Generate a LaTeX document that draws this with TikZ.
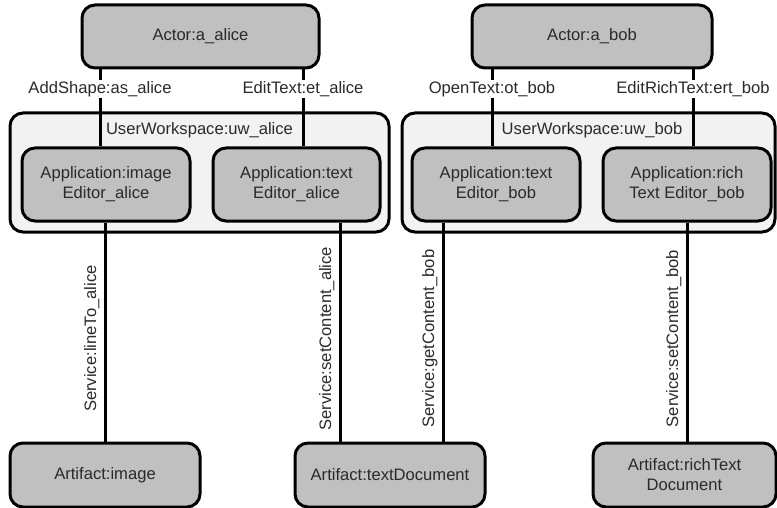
\documentclass[tikz,border=0pt]{standalone}
\usepackage{fontspec}
\setmainfont{Liberation Sans}
\definecolor{boxgray}{HTML}{C0C0C0}
\definecolor{wsgray}{HTML}{F2F2F2}
\definecolor{txt}{HTML}{2A2A2A}
\begin{document}
\begin{tikzpicture}[x=1pt,y=-1pt,
  every node/.style={font=\fontsize{16.6}{20}\selectfont, text=txt},
  elem/.style={draw=black, line width=3pt, fill=boxgray, rounded corners=13pt, align=center, inner sep=0pt},
  ws/.style={draw=black, line width=3pt, fill=wsgray, rounded corners=13pt, inner sep=0pt},
  conn/.style={draw=black, line width=3pt},
  toplab/.style={fill=white, inner sep=1.5pt},
  svclab/.style={rotate=90, anchor=south, inner sep=4pt}]
\useasboundingbox (0,0) rectangle (777,508);
% actors
\node[elem, minimum width=237pt, minimum height=63pt] (aalice) at (200.5,36.5) {Actor:a\_alice};
\node[elem, minimum width=240pt, minimum height=63pt] (abob) at (592,36.5) {Actor:a\_bob};
% workspaces
\node[ws, minimum width=379pt, minimum height=119pt] (uwalice) at (199.5,172.5) {};
\node[ws, minimum width=373pt, minimum height=119pt] (uwbob) at (588.5,172.5) {};
\node[anchor=north, inner sep=0pt] (uwalicelab) at ([yshift=-11pt]uwalice.north) {UserWorkspace:uw\_alice};
\node[anchor=north, inner sep=0pt] (uwboblab) at ([xshift=3.5pt,yshift=-11pt]uwbob.north) {UserWorkspace:uw\_bob};
% applications
\node[elem, minimum width=168pt, minimum height=73pt] (appimg) at (106,184.5) {Application:image\\Editor\_alice};
\node[elem, minimum width=167pt, minimum height=73pt] (apptxta) at (296.5,184.5) {Application:text\\Editor\_alice};
\node[elem, minimum width=168pt, minimum height=73pt] (apptxtb) at (496,184.5) {Application:text\\Editor\_bob};
\node[elem, minimum width=168pt, minimum height=73pt] (apprich) at (687,184.5) {Application:rich\\Text Editor\_bob};
% artifacts
\node[elem, minimum width=190pt, minimum height=64pt] (artimg) at (105,475) {Artifact:image};
\node[elem, minimum width=190pt, minimum height=64pt] (arttxt) at (390,475) {Artifact:textDocument};
\node[elem, minimum width=183pt, minimum height=64pt] (artrich) at (684.5,475) {Artifact:richText\\Document};
% actor -> application connectors
\draw[conn] ([xshift=-100.5pt]aalice.south) -- ([xshift=-6pt]appimg.north)
  node[toplab, pos=0.25] (lab1) {AddShape:as\_alice};
\draw[conn] ([xshift=102.5pt]aalice.south) -- ([xshift=6.5pt]apptxta.north)
  node[toplab, pos=0.25] (lab2) {EditText:et\_alice};
\draw[conn] ([xshift=-100pt]abob.south) -- ([xshift=-4pt]apptxtb.north)
  node[toplab, pos=0.25] (lab3) {OpenText:ot\_bob};
\draw[conn] ([xshift=101pt]abob.south) -- ([xshift=6pt]apprich.north)
  node[toplab, pos=0.25] (lab4) {EditRichText:ert\_bob};
% application -> artifact connectors
\draw[conn] ([xshift=-1pt]appimg.south) -- (artimg.north)
  node[svclab, pos=0.53] (lab5) {Service:lineTo\_alice};
\draw[conn] ([xshift=43.5pt]apptxta.south) -- ([xshift=-50pt]arttxt.north)
  node[svclab, pos=0.53] (lab6) {Service:setContent\_alice};
\draw[conn] ([xshift=-53pt]apptxtb.south) -- ([xshift=53pt]arttxt.north)
  node[svclab, pos=0.53] (lab7) {Service:getContent\_bob};
\draw[conn] (apprich.south) -- ([xshift=2.5pt]artrich.north)
  node[svclab, pos=0.53] (lab8) {Service:setContent\_bob};
\end{tikzpicture}
\end{document}
